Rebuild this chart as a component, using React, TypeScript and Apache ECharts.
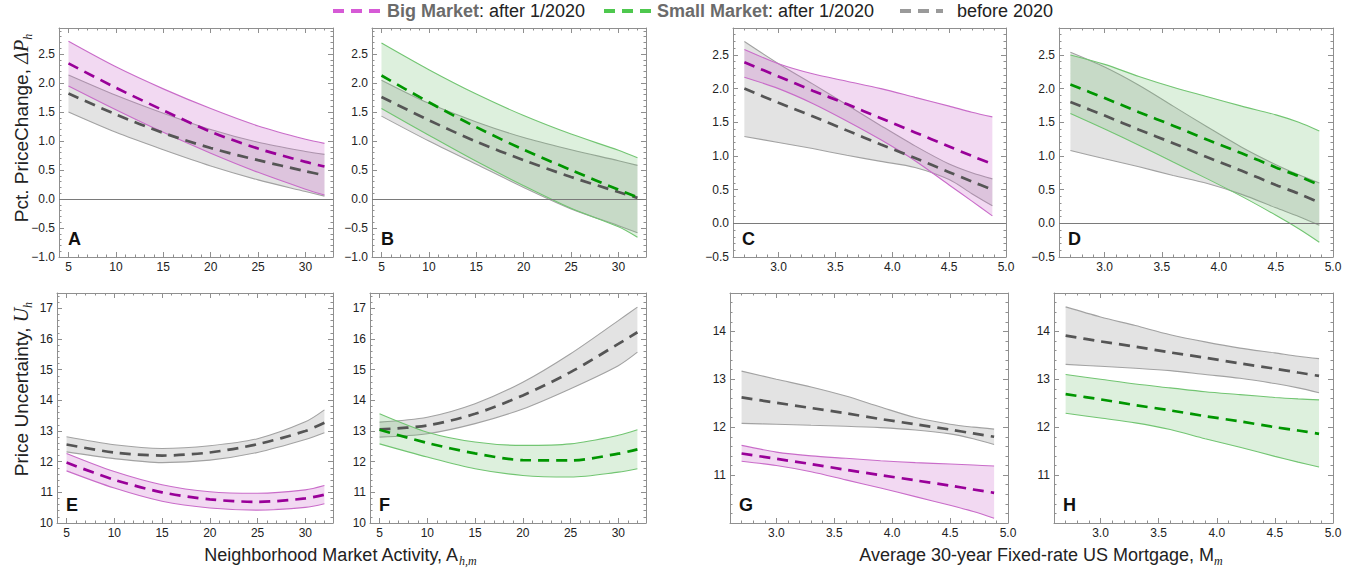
import React, { useEffect, useRef } from "react";
import * as echarts from "echarts";

// ---------- x values ----------
const xAct = [5, 10, 15, 20, 25, 30, 32];
const xMort = [2.7, 3.0, 3.3, 3.6, 3.9, 4.2, 4.5, 4.7, 4.88];

// ---------- tick labels ----------
const actTicks = [5, 10, 15, 20, 25, 30];
const mortTicks = [3.0, 3.5, 4.0, 4.5, 5.0];
const dpTicksAB = [-1, -0.5, 0, 0.5, 1, 1.5, 2, 2.5];
const dpTicksCD = [-0.5, 0, 0.5, 1, 1.5, 2, 2.5];
const uTicksEF = [10, 11, 12, 13, 14, 15, 16, 17];
const uTicksGH = [11, 12, 13, 14];

// ---------- Panel A ----------
const grayHiA = [2.14, 1.79, 1.48, 1.2, 0.98, 0.82, 0.77];
const grayMidA = [1.82, 1.46, 1.14, 0.88, 0.67, 0.48, 0.41];
const grayLoA = [1.5, 1.15, 0.85, 0.57, 0.33, 0.13, 0.05];
const pinkHiA = [2.72, 2.28, 1.9, 1.56, 1.26, 1.03, 0.96];
const pinkMidA = [2.34, 1.92, 1.53, 1.16, 0.87, 0.64, 0.56];
const pinkLoA = [1.95, 1.54, 1.15, 0.79, 0.46, 0.17, 0.07];

// ---------- Panel B ----------
const grayHiB = [2.05, 1.65, 1.33, 1.06, 0.85, 0.66, 0.58];
const grayMidB = [1.76, 1.36, 0.99, 0.67, 0.38, 0.12, 0.02];
const grayLoB = [1.43, 1.0, 0.6, 0.2, -0.17, -0.46, -0.58];
const greenHiB = [2.69, 2.23, 1.81, 1.44, 1.12, 0.84, 0.71];
const greenMidB = [2.13, 1.67, 1.24, 0.85, 0.5, 0.16, 0.03];
const greenLoB = [1.56, 1.1, 0.65, 0.23, -0.16, -0.48, -0.66];

// ---------- Panel C ----------
const grayHiC = [2.7, 2.37, 2.07, 1.76, 1.45, 1.15, 0.88, 0.75, 0.66];
const grayMidC = [2.0, 1.79, 1.59, 1.38, 1.17, 0.97, 0.76, 0.62, 0.5];
const grayLoC = [1.29, 1.2, 1.11, 1.01, 0.92, 0.83, 0.65, 0.44, 0.26];
const pinkHiC = [2.58, 2.37, 2.22, 2.11, 2.0, 1.87, 1.74, 1.65, 1.58];
const pinkMidC = [2.39, 2.18, 1.97, 1.77, 1.56, 1.35, 1.14, 1.0, 0.88];
const pinkLoC = [2.17, 2.0, 1.78, 1.52, 1.24, 0.93, 0.57, 0.33, 0.11];

// ---------- Panel D ----------
const grayHiD = [2.54, 2.32, 2.05, 1.74, 1.43, 1.13, 0.87, 0.72, 0.6];
const grayMidD = [1.8, 1.6, 1.39, 1.19, 0.98, 0.78, 0.57, 0.44, 0.31];
const grayLoD = [1.08, 0.96, 0.84, 0.71, 0.59, 0.43, 0.23, 0.1, -0.03];
const greenHiD = [2.5, 2.36, 2.18, 2.02, 1.88, 1.74, 1.61, 1.5, 1.37];
const greenMidD = [2.06, 1.86, 1.65, 1.45, 1.24, 1.04, 0.83, 0.7, 0.57];
const greenLoD = [1.63, 1.4, 1.16, 0.91, 0.66, 0.4, 0.12, -0.08, -0.28];

// ---------- Panel E ----------
const grayHiE = [12.81, 12.55, 12.43, 12.52, 12.75, 13.3, 13.69];
const grayMidE = [12.56, 12.3, 12.2, 12.3, 12.57, 13.0, 13.27];
const grayLoE = [12.32, 12.1, 11.97, 12.05, 12.3, 12.72, 12.94];
const pinkHiE = [12.27, 11.68, 11.25, 11.02, 10.97, 11.08, 11.22];
const pinkMidE = [11.97, 11.41, 11.0, 10.77, 10.69, 10.8, 10.92];
const pinkLoE = [11.7, 11.14, 10.71, 10.49, 10.42, 10.51, 10.63];

// ---------- Panel F ----------
const grayHiF = [13.29, 13.45, 13.89, 14.59, 15.52, 16.6, 17.04];
const grayMidF = [13.05, 13.18, 13.56, 14.16, 14.92, 15.84, 16.22];
const grayLoF = [12.8, 12.91, 13.24, 13.72, 14.38, 15.13, 15.57];
const greenHiF = [13.56, 12.96, 12.64, 12.53, 12.58, 12.86, 13.04];
const greenMidF = [13.04, 12.61, 12.27, 12.05, 12.04, 12.26, 12.4];
const greenLoF = [12.58, 12.15, 11.77, 11.55, 11.5, 11.66, 11.77];

// ---------- Panel G ----------
const grayHiG = [13.17, 13.0, 12.84, 12.65, 12.42, 12.2, 12.06, 12.0, 11.96];
const grayMidG = [12.62, 12.51, 12.4, 12.29, 12.17, 12.06, 11.95, 11.87, 11.8];
const grayLoG = [12.08, 12.06, 12.04, 12.02, 11.99, 11.94, 11.86, 11.76, 11.64];
const pinkHiG = [11.62, 11.48, 11.4, 11.35, 11.3, 11.26, 11.23, 11.21, 11.19];
const pinkMidG = [11.45, 11.34, 11.23, 11.11, 11.0, 10.89, 10.78, 10.7, 10.63];
const pinkLoG = [11.29, 11.2, 11.07, 10.9, 10.73, 10.55, 10.37, 10.24, 10.1];

// ---------- Panel H ----------
const grayHiH = [14.51, 14.3, 14.12, 13.93, 13.78, 13.65, 13.55, 13.48, 13.43];
const grayMidH = [13.91, 13.79, 13.68, 13.56, 13.45, 13.33, 13.22, 13.14, 13.07];
const grayLoH = [13.31, 13.27, 13.23, 13.18, 13.1, 13.02, 12.91, 12.82, 12.72];
const greenHiH = [13.1, 13.0, 12.9, 12.82, 12.74, 12.68, 12.62, 12.59, 12.57];
const greenMidH = [12.69, 12.58, 12.46, 12.35, 12.23, 12.12, 12.0, 11.93, 11.86];
const greenLoH = [12.29, 12.19, 12.09, 11.95, 11.76, 11.58, 11.39, 11.27, 11.17];

const FRAME = "#8f8f8f";
const FONT = "Liberation Sans";

const COLORS: any = {
  gray: { edge: "#a2a2a2", fill: "rgba(128,128,128,0.22)", mid: "#555555" },
  pink: { edge: "#c96cc9", fill: "rgba(204,102,204,0.25)", mid: "#990099" },
  green: { edge: "#72c572", fill: "rgba(102,187,102,0.22)", mid: "#009600" },
};

const panels: any[] = [
  { id: "A", rect: [59, 28, 274, 229], x: xAct, xr: [4, 32.9], xt: actTicks, xm: 1, xd: 0, yr: [-1, 2.95], yt: dpTicksAB, ym: 0.1, yd: 1, zero: true,
    bands: [{ k: "gray", lo: grayLoA, mid: grayMidA, hi: grayHiA }, { k: "pink", lo: pinkLoA, mid: pinkMidA, hi: pinkHiA }] },
  { id: "B", rect: [372, 28, 274, 229], x: xAct, xr: [4, 32.9], xt: actTicks, xm: 1, xd: 0, yr: [-1, 2.95], yt: dpTicksAB, ym: 0.1, yd: 1, zero: true,
    bands: [{ k: "gray", lo: grayLoB, mid: grayMidB, hi: grayHiB }, { k: "green", lo: greenLoB, mid: greenMidB, hi: greenHiB }] },
  { id: "C", rect: [733, 28, 273, 229], x: xMort, xr: [2.6, 5.0], xt: mortTicks, xm: 0.1, xd: 1, yr: [-0.5, 2.9], yt: dpTicksCD, ym: 0.1, yd: 1, zero: true,
    bands: [{ k: "gray", lo: grayLoC, mid: grayMidC, hi: grayHiC }, { k: "pink", lo: pinkLoC, mid: pinkMidC, hi: pinkHiC }] },
  { id: "D", rect: [1059, 28, 274, 229], x: xMort, xr: [2.6, 5.0], xt: mortTicks, xm: 0.1, xd: 1, yr: [-0.5, 2.9], yt: dpTicksCD, ym: 0.1, yd: 1, zero: true,
    bands: [{ k: "gray", lo: grayLoD, mid: grayMidD, hi: grayHiD }, { k: "green", lo: greenLoD, mid: greenMidD, hi: greenHiD }] },
  { id: "E", rect: [57, 293, 276, 230], x: xAct, xr: [4, 32.9], xt: actTicks, xm: 1, xd: 0, yr: [10, 17.5], yt: uTicksEF, ym: 0.2, yd: 0, zero: false,
    bands: [{ k: "gray", lo: grayLoE, mid: grayMidE, hi: grayHiE }, { k: "pink", lo: pinkLoE, mid: pinkMidE, hi: pinkHiE }] },
  { id: "F", rect: [370, 293, 276, 230], x: xAct, xr: [4, 32.9], xt: actTicks, xm: 1, xd: 0, yr: [10, 17.5], yt: uTicksEF, ym: 0.2, yd: 0, zero: false,
    bands: [{ k: "gray", lo: grayLoF, mid: grayMidF, hi: grayHiF }, { k: "green", lo: greenLoF, mid: greenMidF, hi: greenHiF }] },
  { id: "G", rect: [730, 293, 278, 230], x: xMort, xr: [2.6, 5.0], xt: mortTicks, xm: 0.1, xd: 1, yr: [10, 14.8], yt: uTicksGH, ym: 0.2, yd: 0, zero: false,
    bands: [{ k: "gray", lo: grayLoG, mid: grayMidG, hi: grayHiG }, { k: "pink", lo: pinkLoG, mid: pinkMidG, hi: pinkHiG }] },
  { id: "H", rect: [1054, 293, 279, 230], x: xMort, xr: [2.6, 5.0], xt: mortTicks, xm: 0.1, xd: 1, yr: [10, 14.8], yt: uTicksGH, ym: 0.2, yd: 0, zero: false,
    bands: [{ k: "gray", lo: grayLoH, mid: grayMidH, hi: grayHiH }, { k: "green", lo: greenLoH, mid: greenMidH, hi: greenHiH }] },
];

const fmt = (v: number, d: number) => Number(v).toFixed(d).replace("-", "\u2212");

function buildOption() {
  const grid: any[] = [];
  const xAxis: any[] = [];
  const yAxis: any[] = [];
  const series: any[] = [];
  const graphic: any[] = [];

  panels.forEach((p, gi) => {
    const [l, t, w, h] = p.rect;
    grid.push({ left: l, top: t, width: w, height: h, containLabel: false });

    const base = (min: number, max: number) => ({
      type: "value", gridIndex: gi, min, max, splitLine: { show: false }, silent: true,
    });
    const major = (pos: string, ticks: number[], d: number, labels: boolean, min: number, max: number) => ({
      ...base(min, max),
      position: pos,
      axisLine: { show: true, onZero: false, lineStyle: { color: FRAME, width: 1 } },
      axisTick: { show: true, inside: true, length: 5, customValues: ticks, lineStyle: { color: FRAME, width: 1 } },
      axisLabel: labels
        ? { show: true, customValues: ticks, formatter: (v: number) => fmt(v, d), color: "#222", fontSize: 12, fontFamily: FONT, margin: 4 }
        : { show: false },
    });
    const minor = (pos: string, step: number, min: number, max: number) => ({
      ...base(min, max),
      position: pos,
      interval: step,
      axisLine: { show: false, onZero: false },
      axisTick: { show: true, inside: true, length: 2.5, lineStyle: { color: FRAME, width: 1 } },
      axisLabel: { show: false },
    });

    const xi = xAxis.length;
    xAxis.push(major("bottom", p.xt, p.xd, true, p.xr[0], p.xr[1]));
    xAxis.push(minor("bottom", p.xm, p.xr[0], p.xr[1]));
    xAxis.push(major("top", p.xt, p.xd, false, p.xr[0], p.xr[1]));
    xAxis.push(minor("top", p.xm, p.xr[0], p.xr[1]));
    const yi = yAxis.length;
    yAxis.push(major("left", p.yt, p.yd, true, p.yr[0], p.yr[1]));
    yAxis.push(minor("left", p.ym, p.yr[0], p.yr[1]));
    yAxis.push(major("right", p.yt, p.yd, false, p.yr[0], p.yr[1]));
    yAxis.push(minor("right", p.ym, p.yr[0], p.yr[1]));

    // data rows are [yValue, xValue] so that stacking happens on the y dimension
    p.bands.forEach((b: any, bi: number) => {
      const c = COLORS[b.k];
      const stack = `${p.id}-${bi}`;
      series.push({
        type: "line", xAxisIndex: xi, yAxisIndex: yi, stack, stackStrategy: "all",
        encode: { x: 1, y: 0 },
        data: p.x.map((xv: number, i: number) => [b.lo[i], xv]),
        smooth: 0.3, symbol: "none", lineStyle: { color: c.edge, width: 1.1 }, z: 2 + bi,
        markLine: p.zero && bi === 0
          ? { silent: true, symbol: "none", label: { show: false }, lineStyle: { color: "#7a7a7a", width: 1, type: "solid" }, data: [{ yAxis: 0 }] }
          : undefined,
      });
      series.push({
        type: "line", xAxisIndex: xi, yAxisIndex: yi, stack, stackStrategy: "all",
        encode: { x: 1, y: 0 },
        data: p.x.map((xv: number, i: number) => [b.hi[i] - b.lo[i], xv]),
        smooth: 0.3, symbol: "none", lineStyle: { color: c.edge, width: 1.1 },
        areaStyle: { color: c.fill, opacity: 1 }, z: 2 + bi,
      });
    });
    p.bands.forEach((b: any) => {
      const c = COLORS[b.k];
      series.push({
        type: "line", xAxisIndex: xi, yAxisIndex: yi,
        data: p.x.map((xv: number, i: number) => [xv, b.mid[i]]),
        smooth: 0.3, symbol: "none", lineStyle: { color: c.mid, width: 2.7, type: [11, 7] }, z: 5,
      });
    });

    graphic.push({
      type: "text", x: l + 9, y: t + h - 9,
      style: { text: p.id, fill: "#111", font: `bold 18px ${FONT}`, textAlign: "left", textVerticalAlign: "bottom", align: "left", verticalAlign: "bottom" },
    });
  });

  // Legend
  const legendItems = [
    { x1: 333, x2: 380, color: "#d65ad6", tx: 387, rich: "{b|Big Market}{n|: after 1/2020}" },
    { x1: 604, x2: 651, color: "#4ec84e", tx: 657, rich: "{b|Small Market}{n|: after 1/2020}" },
    { x1: 900, x2: 943, color: "#9a9a9a", tx: 957, rich: "{n|before 2020}" },
  ];
  legendItems.forEach((it) => {
    graphic.push({
      type: "line", shape: { x1: it.x1, y1: 11, x2: it.x2, y2: 11 },
      style: { stroke: it.color, lineWidth: 4, lineDash: [11, 7] },
    });
    graphic.push({
      type: "text", x: it.tx, y: 11,
      style: {
        text: it.rich, textVerticalAlign: "middle", verticalAlign: "middle", textAlign: "left", align: "left",
        rich: {
          b: { fontFamily: FONT, fontSize: 18, fontWeight: "bold", fill: "#6b6b6b", color: "#6b6b6b" },
          n: { fontFamily: FONT, fontSize: 18, fill: "#222", color: "#222" },
        },
      },
    });
  });

  const mkRich = (size: number) => ({
    n: { fontFamily: FONT, fontSize: size, fill: "#222", color: "#222", lineHeight: size + 6 },
    i: { fontFamily: "Liberation Serif", fontStyle: "italic", fontSize: size + 1, fill: "#222", color: "#222", lineHeight: size + 6 },
    s: { fontFamily: "Liberation Serif", fontStyle: "italic", fontSize: 12, fill: "#222", color: "#222", lineHeight: 12, verticalAlign: "bottom" },
  });
  const yRich = mkRich(19);
  const xRich = mkRich(18);
  graphic.push({
    type: "text", x: 21, y: 128, rotation: Math.PI / 2,
    style: { text: "{n|Pct. PriceChange, }{i|\u0394P}{s|h}", rich: yRich, textAlign: "center", align: "center", textVerticalAlign: "middle", verticalAlign: "middle" },
  });
  graphic.push({
    type: "text", x: 21, y: 389, rotation: Math.PI / 2,
    style: { text: "{n|Price Uncertainty, }{i|U}{s|h}", rich: yRich, textAlign: "center", align: "center", textVerticalAlign: "middle", verticalAlign: "middle" },
  });
  graphic.push({
    type: "text", x: 340, y: 555,
    style: { text: "{n|Neighborhood Market Activity, A}{s|h,m}", rich: xRich, textAlign: "center", align: "center", textVerticalAlign: "middle", verticalAlign: "middle" },
  });
  graphic.push({
    type: "text", x: 1041, y: 555,
    style: { text: "{n|Average 30-year Fixed-rate US Mortgage, M}{s|m}", rich: xRich, textAlign: "center", align: "center", textVerticalAlign: "middle", verticalAlign: "middle" },
  });

  return {
    animation: false,
    backgroundColor: "#ffffff",
    textStyle: { fontFamily: FONT },
    grid, xAxis, yAxis, series, graphic,
  };
}

export default function App() {
  const ref = useRef<HTMLDivElement>(null);
  useEffect(() => {
    if (!ref.current) return;
    const chart = echarts.init(ref.current, undefined, { renderer: "svg" });
    chart.setOption(buildOption() as any);
    return () => chart.dispose();
  }, []);
  return <div ref={ref} style={{ position: "fixed", left: 0, top: 0, width: 1372, height: 572, background: "#fff" }} />;
}
